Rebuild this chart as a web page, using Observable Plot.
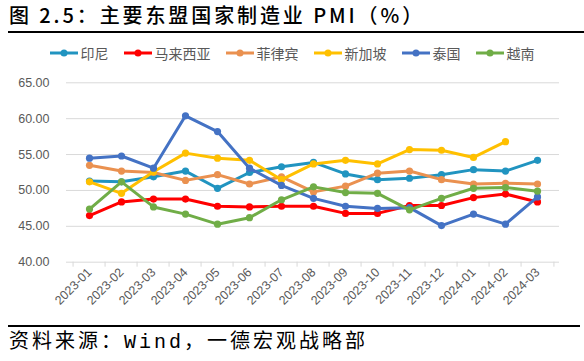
<!DOCTYPE html>
<html><head><meta charset="utf-8">
<script src="https://cdn.jsdelivr.net/npm/d3@7"></script>
<script src="https://cdn.jsdelivr.net/npm/@observablehq/plot@0.6"></script>
<style>
body{margin:0;width:584px;height:361px;position:relative;background:#fff;overflow:hidden;font-family:"Noto Sans CJK SC",sans-serif}
#title{position:absolute;left:9px;top:1px;font-size:20px;line-height:28px;letter-spacing:2.9px;color:#000;white-space:pre;font-weight:500}
#rule1{position:absolute;left:8px;width:576px;top:31px;height:2px;background:#000}
#legend{position:absolute;top:44px;left:0;width:584px;display:flex;justify-content:center;align-items:center;font-size:14px;line-height:18px;color:#595959}
#legend .item{display:flex;align-items:center;margin:0 7.5px}
#legend svg{margin-right:3px}
#chart{position:absolute;left:0;top:62px}
#rule2{position:absolute;left:8px;width:572px;top:325px;height:2px;background:#000}
#caption{position:absolute;left:9px;top:330px;font-size:20px;line-height:26px;letter-spacing:3px;color:#000;white-space:pre;font-family:"Liberation Mono","Noto Sans CJK SC",monospace}
</style></head>
<body>
<div id="title">图 2.5：主要东盟国家制造业 PMI（%）</div>
<div id="rule1"></div>
<div id="legend"></div>
<div id="chart"></div>
<div id="rule2"></div>
<div id="caption">资料来源：Wind，一德宏观战略部</div>
<script>
const months = ["2023-01","2023-02","2023-03","2023-04","2023-05","2023-06","2023-07","2023-08","2023-09","2023-10","2023-11","2023-12","2024-01","2024-02","2024-03"];
const seriesNames = ["印尼","马来西亚","菲律宾","新加坡","泰国","越南"];
const seriesColors = ["#2194C0","#FF0000","#EA9150","#FFC000","#4472C4","#70AD47"];
const indonesia   = [51.3,51.2,51.9,52.7,50.3,52.5,53.3,53.9,52.3,51.5,51.7,52.2,52.9,52.7,54.2];
const malaysia    = [46.5,48.4,48.8,48.8,47.8,47.7,47.8,47.8,46.8,46.8,47.9,47.9,49.0,49.5,48.4];
const philippines = [53.5,52.7,52.5,51.4,52.2,50.9,51.9,49.8,50.6,52.4,52.7,51.5,50.9,51.0,50.9];
const singapore   = [51.2,49.6,52.6,55.2,54.5,54.2,51.5,53.7,54.2,53.7,55.7,55.6,54.6,56.8,null];
const thailand    = [54.5,54.8,53.1,60.4,58.2,53.1,50.7,48.9,47.8,47.5,47.6,45.1,46.7,45.3,49.1];
const vietnam     = [47.4,51.2,47.7,46.7,45.3,46.2,48.7,50.5,49.7,49.6,47.3,48.9,50.3,50.4,49.9];
const yTicks = [40,45,50,55,60,65];

const seriesValues = [indonesia, malaysia, philippines, singapore, thailand, vietnam];
const table = seriesNames.flatMap((name, s) =>
  months.map((m, i) => ({country: name, month: m, value: seriesValues[s][i]}))
        .filter(d => d.value != null));

// legend
const legend = document.getElementById("legend");
seriesNames.forEach((name, i) => {
  const item = document.createElement("div");
  item.className = "item";
  item.innerHTML = `<svg width="28" height="10"><line x1="0" x2="28" y1="5" y2="5" stroke="${seriesColors[i]}" stroke-width="3"/><circle cx="14" cy="5" r="3.5" fill="${seriesColors[i]}"/></svg><span>${name}</span>`;
  legend.appendChild(item);
});

const W = 584, H = 256, ML = 66, MR = 25;
const step = (W - ML - MR) / months.length;

const chart = Plot.plot({
  width: W, height: H,
  marginLeft: ML, marginRight: MR, marginTop: 20.3, marginBottom: 56.3,
  style: {fontFamily: "'Liberation Sans', Arial, sans-serif", background: "transparent"},
  x: {type: "point", domain: months, padding: 0.5},
  y: {domain: [40, 65]},
  color: {domain: seriesNames, range: seriesColors},
  marks: [
    Plot.gridY(yTicks.slice(1), {stroke: "#d9d9d9", strokeOpacity: 1, strokeWidth: 1}),
    Plot.ruleY([40], {stroke: "#d9d9d9", strokeWidth: 1}),
    Plot.axisY(yTicks, {tickSize: 0, tickPadding: 17, tickFormat: d => d.toFixed(2), fontSize: 12.5, fill: "#595959", label: null}),
    Plot.axisX(months, {tickSize: 5, stroke: "#d9d9d9", tickFormat: () => "", dx: -step / 2, label: null}),
    Plot.axisX([months[months.length - 1]], {tickSize: 5, stroke: "#d9d9d9", tickFormat: () => "", dx: step / 2, label: null}),
    Plot.axisX(months, {tickSize: 0, tickPadding: 8, tickRotate: -45, fontSize: 12.5, fill: "#595959", label: null}),
    ...seriesNames.flatMap(name => [
      Plot.line(table.filter(d => d.country === name), {x: "month", y: "value", stroke: "country", strokeWidth: 3}),
      Plot.dot(table.filter(d => d.country === name), {x: "month", y: "value", fill: "country", r: 3.6})
    ])
  ]
});
document.getElementById("chart").appendChild(chart);
</script>
</body></html>
